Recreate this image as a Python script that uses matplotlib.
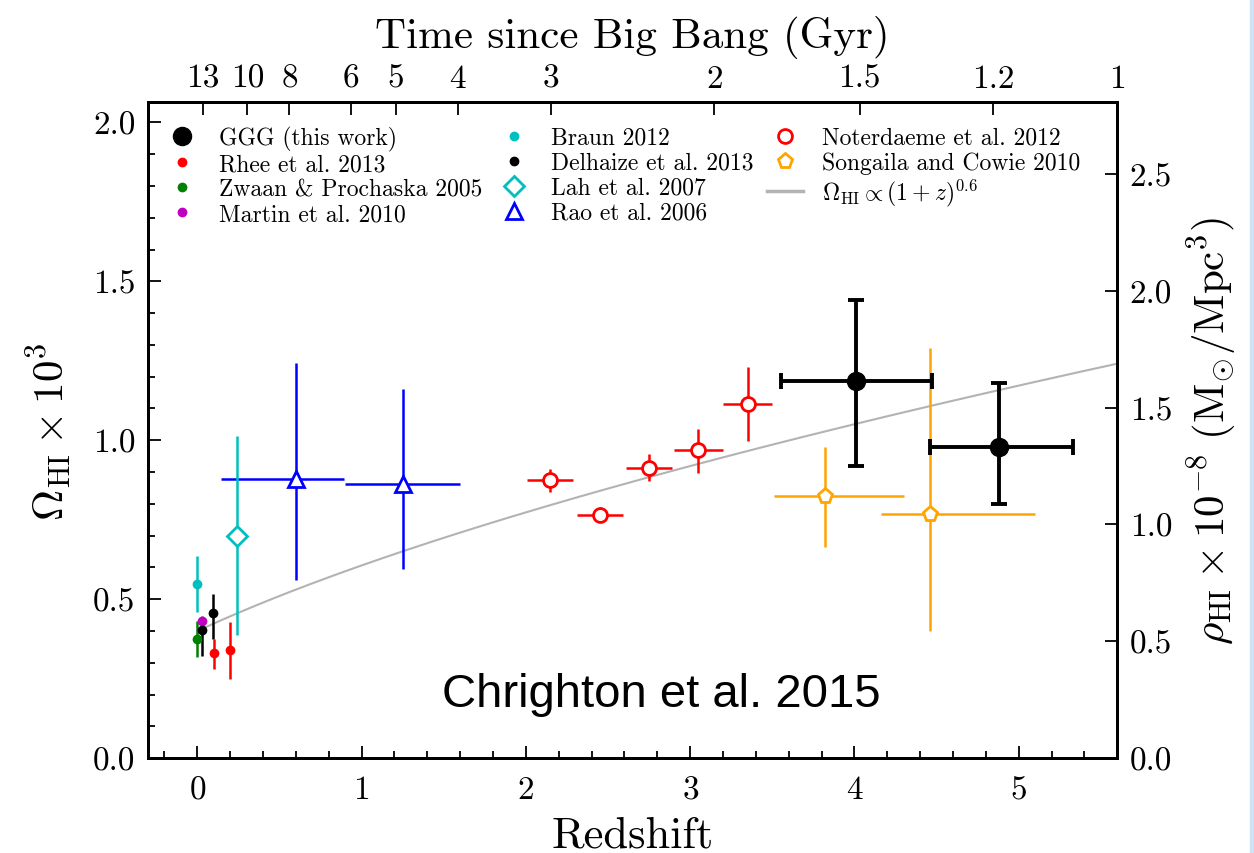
import numpy as np
import matplotlib
matplotlib.use("Agg")
import matplotlib.pyplot as plt
from matplotlib.ticker import MultipleLocator, NullLocator
from matplotlib.patches import Rectangle

plt.rcParams['font.family'] = 'serif'
plt.rcParams['font.serif'] = ['cmr10']
plt.rcParams['mathtext.fontset'] = 'cm'
plt.rcParams['axes.unicode_minus'] = False
plt.rcParams['axes.formatter.use_mathtext'] = True

# ---- data (Omega_HI x 1e3 vs redshift) ----
ggg_z = [4.01, 4.88]
ggg_y = [1.185, 0.98]
ggg_zlo = [3.555, 4.46]
ggg_zhi = [4.47, 5.33]
ggg_ylo = [0.918, 0.80]
ggg_yhi = [1.44, 1.18]

rhee_z = [0.10, 0.197]
rhee_y = [0.330, 0.341]
rhee_ylo = [0.28, 0.25]
rhee_yhi = [0.374, 0.427]

zwaan_z = [0.0]
zwaan_y = [0.374]
zwaan_ylo = [0.317]
zwaan_yhi = [0.432]

martin_z = [0.026]
martin_y = [0.432]
martin_ylo = [0.417]
martin_yhi = [0.447]

braun_z = [0.0]
braun_y = [0.547]
braun_ylo = [0.459]
braun_yhi = [0.636]

delh_z = [0.026, 0.096]
delh_y = [0.403, 0.456]
delh_ylo = [0.32, 0.374]
delh_yhi = [0.44, 0.516]

lah_z = [0.24]
lah_y = [0.698]
lah_ylo = [0.387]
lah_yhi = [1.013]

rao_z = [0.60, 1.25]
rao_y = [0.877, 0.862]
rao_zlo = [0.146, 0.90]
rao_zhi = [0.896, 1.60]
rao_ylo = [0.56, 0.594]
rao_yhi = [1.242, 1.16]

note_z = [2.15, 2.45, 2.75, 3.05, 3.35]
note_y = [0.874, 0.764, 0.912, 0.968, 1.113]
note_dz = [0.14, 0.14, 0.14, 0.15, 0.15]
note_ylo = [0.838, 0.745, 0.872, 0.898, 0.997]
note_yhi = [0.909, 0.789, 0.956, 1.034, 1.229]

song_z = [3.82, 4.46]
song_y = [0.824, 0.767]
song_zlo = [3.51, 4.16]
song_zhi = [4.30, 5.10]
song_ylo = [0.664, 0.40]
song_yhi = [0.978, 1.29]

# power-law model
model_amp = 0.40
model_exp = 0.6
model_zmin, model_zmax = 0.05, 5.6

# top axis: time since Big Bang (Gyr), flat LCDM H0=70, Om=0.3
age_ticks = [13, 10, 8, 6, 5, 4, 3, 2, 1.5, 1.2, 1]
age_labels = ['13', '10', '8', '6', '5', '4', '3', '2', '1.5', '1.2', '1']
H0, Om = 70.0, 0.3
rho_factor = 1.36  # rho_HI [1e8 Msun/Mpc^3] per Omega_HI x 1e3


def z_from_age(t):
    OL = 1 - Om
    T = 2.0 / 3.0 * (977.8 / H0) / np.sqrt(OL)
    x = np.sinh(np.asarray(t) / T)
    return (x / np.sqrt(OL / Om)) ** (-2.0 / 3.0) - 1


def err(y, lo, hi):
    y = np.asarray(y)
    return [y - np.asarray(lo), np.asarray(hi) - y]


fig = plt.figure(figsize=(12.54, 8.54), dpi=100)
ax = fig.add_axes([0.118, 0.111, 0.773, 0.768])

zz = np.linspace(model_zmin, model_zmax, 200)
ax.plot(zz, model_amp * (1 + zz) ** model_exp, color='0.7', lw=1.5, zorder=1)

ekw = dict(fmt='none', elinewidth=1.8, zorder=2)
ax.errorbar(note_z, note_y, xerr=note_dz, yerr=err(note_y, note_ylo, note_yhi), ecolor='r', **ekw)
ax.errorbar(song_z, song_y, xerr=err(song_z, song_zlo, song_zhi),
            yerr=err(song_y, song_ylo, song_yhi), ecolor='orange', **ekw)
ax.errorbar(rao_z, rao_y, xerr=err(rao_z, rao_zlo, rao_zhi),
            yerr=err(rao_y, rao_ylo, rao_yhi), ecolor='b', **ekw)
ax.errorbar(lah_z, lah_y, yerr=err(lah_y, lah_ylo, lah_yhi), ecolor='c', **ekw)
ax.errorbar(braun_z, braun_y, yerr=err(braun_y, braun_ylo, braun_yhi), ecolor='c', **ekw)
ax.errorbar(zwaan_z, zwaan_y, yerr=err(zwaan_y, zwaan_ylo, zwaan_yhi), ecolor='g', **ekw)
ax.errorbar(rhee_z, rhee_y, yerr=err(rhee_y, rhee_ylo, rhee_yhi), ecolor='r', **ekw)
ax.errorbar(delh_z, delh_y, yerr=err(delh_y, delh_ylo, delh_yhi), ecolor='k', **ekw)
ax.errorbar(martin_z, martin_y, yerr=err(martin_y, martin_ylo, martin_yhi), ecolor='m', **ekw)
ax.errorbar(ggg_z, ggg_y, xerr=err(ggg_z, ggg_zlo, ggg_zhi), yerr=err(ggg_y, ggg_ylo, ggg_yhi),
            fmt='none', ecolor='k', elinewidth=2.8, capsize=6, capthick=2.8, zorder=3)

mk = dict(ls='none', zorder=4)
h_ggg, = ax.plot(ggg_z, ggg_y, 'o', color='k', ms=13, label='GGG (this work)', **mk)
h_rhee, = ax.plot(rhee_z, rhee_y, 'o', color='r', ms=6, label='Rhee et al. 2013', **mk)
h_zw, = ax.plot(zwaan_z, zwaan_y, 'o', color='g', ms=6, label='Zwaan & Prochaska 2005', **mk)
h_mar, = ax.plot(martin_z, martin_y, 'o', color='m', ms=6, label='Martin et al. 2010', **mk)
h_br, = ax.plot(braun_z, braun_y, 'o', color='c', ms=6, label='Braun 2012', **mk)
h_de, = ax.plot(delh_z, delh_y, 'o', color='k', ms=6, label='Delhaize et al. 2013', **mk)
h_lah, = ax.plot(lah_z, lah_y, 'D', mfc='w', mec='c', mew=2, ms=10, label='Lah et al. 2007', **mk)
h_rao, = ax.plot(rao_z, rao_y, '^', mfc='w', mec='b', mew=2, ms=11, label='Rao et al. 2006', **mk)
h_no, = ax.plot(note_z, note_y, 'o', mfc='w', mec='r', mew=2, ms=10, label='Noterdaeme et al. 2012', **mk)
h_so, = ax.plot(song_z, song_y, 'p', mfc='w', mec='orange', mew=2, ms=11,
                label='Songaila and Cowie 2010', **mk)
h_mod, = ax.plot([], [], color='0.7', lw=2.5, label=r'$\Omega_{\rm HI}\propto(1+z)^{0.6}$')

ax.legend(handles=[h_ggg, h_rhee, h_zw, h_mar, h_br, h_de, h_lah, h_rao, h_no, h_so, h_mod],
          loc='upper left', ncol=3, frameon=False, fontsize=17, handlelength=1.5,
          handletextpad=0.8, columnspacing=0.6, labelspacing=0.12, borderaxespad=0.3,
          bbox_to_anchor=(0.0, 0.99))

ax.set_xlim(-0.3, 5.6)
ax.set_ylim(0, 2.063)
ax.xaxis.set_major_locator(MultipleLocator(1))
ax.xaxis.set_minor_locator(MultipleLocator(0.2))
ax.yaxis.set_major_locator(MultipleLocator(0.5))
ax.yaxis.set_minor_locator(MultipleLocator(0.1))
ax.set_yticks([0.0, 0.5, 1.0, 1.5, 2.0])
ax.set_yticklabels(['0.0', '0.5', '1.0', '1.5', '2.0'])
ax.tick_params(which='both', direction='in', top=False, right=False, labelsize=24, width=1.3)
ax.tick_params(axis='x', which='major', length=9, pad=12)
ax.tick_params(axis='y', which='major', length=9, pad=9)
ax.tick_params(which='minor', length=5)
ax.set_xlabel('Redshift', fontsize=32, labelpad=8)
ax.set_ylabel(r'$\Omega_{\rm HI}\times10^3$', fontsize=31, labelpad=14)

# right axis
axr = ax.twinx()
axr.set_ylim(0, 2.063 * rho_factor)
axr.set_yticks([0.0, 0.5, 1.0, 1.5, 2.0, 2.5])
axr.set_yticklabels(['0.0', '0.5', '1.0', '1.5', '2.0', '2.5'])
axr.yaxis.set_minor_locator(NullLocator())
axr.tick_params(direction='in', length=9, width=1.3, labelsize=24, pad=9)
axr.set_ylabel(r'$\rho_{\rm HI}\times10^{-8}\ ({\rm M}_{\odot}/{\rm Mpc}^3)$', fontsize=31, labelpad=10)

# top axis
axt = ax.twiny()
axt.set_xlim(ax.get_xlim())
axt.set_xticks(z_from_age(age_ticks))
axt.set_xticklabels(age_labels)
axt.xaxis.set_minor_locator(NullLocator())
axt.tick_params(direction='in', length=9, width=1.3, labelsize=24, pad=7)
axt.set_xlabel('Time since Big Bang (Gyr)', fontsize=31, labelpad=12)

for a in (ax, axr, axt):
    for s in a.spines.values():
        s.set_linewidth(2.0)

ax.text(0.53, 0.0976, 'Chrighton et al. 2015', transform=ax.transAxes, ha='center', va='center',
        fontsize=34, family='Liberation Sans')

fig.patches.append(Rectangle((0.9972, 0), 0.0028, 1, transform=fig.transFigure,
                             color='#cfe3f5', zorder=0))

fig.savefig('out.png', dpi=100)
